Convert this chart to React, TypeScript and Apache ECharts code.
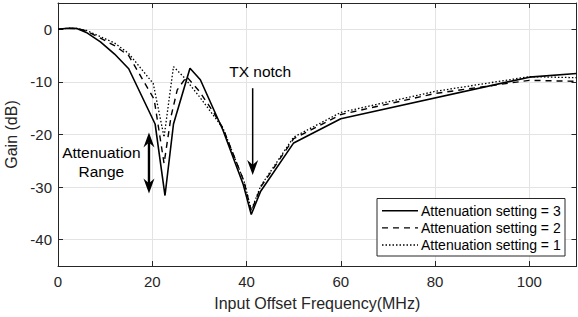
import React, { useEffect, useRef } from "react";
import * as echarts from "echarts";

const FONT = "'Liberation Sans', Arial, Helvetica, sans-serif";

const xTicks = [0, 20, 40, 60, 80, 100];
const yTicks = [0, -10, -20, -30, -40];

const seriesNames = [
  "Attenuation setting = 3",
  "Attenuation setting = 2",
  "Attenuation setting = 1",
];

const freq3 = [0, 2, 4, 6, 9, 12, 15, 20.6, 22.7, 24.5, 28, 30.2, 35, 39.3, 41, 43, 50, 60, 100, 110];
const gain3 = [0, 0.2, 0.15, -0.6, -2.4, -4.7, -7.5, -18, -31.6, -18, -7.4, -9.6, -19.2, -29.5, -35.2, -30.8, -21.6, -17, -9.1, -8.4];

const freq2 = [0, 2, 4, 6, 9, 12, 15, 20.4, 22.5, 24, 25.3, 27.3, 30, 33, 35, 39.5, 41, 43, 50, 60, 80, 100, 110];
const gain2 = [0, 0.2, 0.15, -0.3, -1.7, -3.1, -5, -13.3, -25.5, -16.5, -11.5, -9, -11.8, -15.8, -18.8, -29, -34.6, -30, -20.8, -16.2, -12.2, -9.7, -9.9];

const freq1 = [0, 2, 4, 6, 9, 12, 15, 20.2, 22.5, 24.5, 26.8, 30, 35, 39.5, 41, 43, 50, 60, 80, 100, 110];
const gain1 = [0, 0.2, 0.15, -0.2, -1.4, -2.6, -4.6, -10.3, -20.5, -7.1, -9.2, -12.8, -18.8, -29, -34.4, -29.8, -20.5, -15.8, -11.8, -9.0, -9.2];

const lineTypes: any[] = ["solid", [6, 5], [1.5, 2]];
const lineWidths = [1.6, 1.4, 1.3];

const AXIS_COLOR = "#262626";
const GRID_COLOR = "#e3e3e3";

export default function App() {
  const ref = useRef<HTMLDivElement>(null);
  useEffect(() => {
    if (!ref.current) return;
    const chart = echarts.init(ref.current, undefined, { renderer: "svg" });
    const datasets = [
      freq3.map((f, i) => [f, gain3[i]]),
      freq2.map((f, i) => [f, gain2[i]]),
      freq1.map((f, i) => [f, gain1[i]]),
    ];
    const xBase = {
      type: "value" as const,
      min: 0,
      max: 110,
      interval: 20,
    };
    const yBase = {
      type: "value" as const,
      min: -45,
      max: 5,
      splitNumber: 5,
    };
    chart.setOption({
      animation: false,
      backgroundColor: "#ffffff",
      textStyle: { fontFamily: FONT },
      grid: {
        left: 58,
        right: 1.5,
        top: 3,
        bottom: 51,
        containLabel: false,
        outerBoundsMode: "none",
      },
      xAxis: [
        {
          ...xBase,
          position: "bottom",
          name: "Input Offset Frequency(MHz)",
          nameLocation: "middle",
          nameGap: 29,
          nameTextStyle: { fontSize: 16, color: AXIS_COLOR, fontFamily: FONT },
          axisLine: { show: true, onZero: false, lineStyle: { color: AXIS_COLOR, width: 1 } },
          axisTick: { show: true, inside: true, length: 5, lineStyle: { color: AXIS_COLOR } },
          axisLabel: {
            fontSize: 15,
            color: AXIS_COLOR,
            margin: 8,
            fontFamily: FONT,
            showMaxLabel: false,
            formatter: (v: number) => (xTicks.includes(v) ? String(v) : ""),
          },
          splitLine: { show: true, lineStyle: { color: GRID_COLOR, width: 1 } },
        },
        {
          ...xBase,
          position: "top",
          axisLine: { show: true, onZero: false, lineStyle: { color: AXIS_COLOR, width: 1 } },
          axisTick: { show: true, inside: true, length: 5, lineStyle: { color: AXIS_COLOR } },
          axisLabel: { show: false },
          splitLine: { show: false },
        },
      ],
      yAxis: [
        {
          ...yBase,
          position: "left",
          name: "Gain (dB)",
          nameLocation: "middle",
          nameGap: 33,
          nameTextStyle: { fontSize: 16, color: AXIS_COLOR, fontFamily: FONT },
          axisLine: { show: true, onZero: false, lineStyle: { color: AXIS_COLOR, width: 1 } },
          axisTick: { show: true, inside: true, length: 5, lineStyle: { color: AXIS_COLOR } },
          axisLabel: {
            fontSize: 15,
            color: AXIS_COLOR,
            margin: 6,
            fontFamily: FONT,
            showMinLabel: false,
            showMaxLabel: false,
            formatter: (v: number) => (yTicks.includes(v) ? String(v) : ""),
          },
          splitLine: { show: true, lineStyle: { color: GRID_COLOR, width: 1 } },
        },
        {
          ...yBase,
          position: "right",
          axisLine: { show: true, onZero: false, lineStyle: { color: AXIS_COLOR, width: 1 } },
          axisTick: { show: true, inside: true, length: 5, lineStyle: { color: AXIS_COLOR } },
          axisLabel: { show: false },
          splitLine: { show: false },
        },
      ],
      series: datasets.map((d, i) => ({
        name: seriesNames[i],
        type: "line",
        xAxisIndex: 0,
        yAxisIndex: 0,
        data: d,
        symbol: "none",
        showSymbol: false,
        color: "#000",
        lineStyle: { color: "#000", width: lineWidths[i], type: lineTypes[i] },
        z: 3 - i,
      })),
    });

    const px = (x: number, y: number) =>
      chart.convertToPixel({ gridIndex: 0 }, [x, y]) as number[];

    const head = (tip: number[], dir: number, len: number, w: number) => {
      const [x, y] = tip;
      return {
        type: "polygon",
        shape: {
          points: [
            [x, y],
            [x - w / 2, y - dir * len],
            [x, y - dir * len * 0.68],
            [x + w / 2, y - dir * len],
          ],
        },
        style: { fill: "#000" },
        z: 10,
      };
    };

    const txTop = px(41.3, -11.2);
    const txTip = px(41.3, -27.7);
    const atTop = px(19.3, -19.6);
    const atBot = px(19.3, -31.2);
    const txText = px(42.9, -8.1);
    const atText = px(9.2, -25.2);

    // manual legend (MATLAB-style box)
    const lgLeft = 377;
    const lgTop = 198.5;
    const lgW = 188;
    const lgH = 57.5;
    const rowY = [210.7, 227.9, 245];
    const legendEls: any[] = [
      {
        type: "rect",
        shape: { x: lgLeft, y: lgTop, width: lgW, height: lgH },
        style: { fill: "#ffffff", stroke: AXIS_COLOR, lineWidth: 1 },
        z: 20,
      },
    ];
    seriesNames.forEach((name, i) => {
      legendEls.push({
        type: "line",
        shape: { x1: lgLeft + 5, y1: rowY[i], x2: lgLeft + 41, y2: rowY[i] },
        style: {
          stroke: "#000",
          lineWidth: lineWidths[i],
          lineDash: i === 0 ? null : lineTypes[i],
        },
        z: 21,
      });
      legendEls.push({
        type: "text",
        x: lgLeft + 44,
        y: rowY[i],
        style: {
          text: name,
          fontSize: 14,
          fontFamily: FONT,
          fill: "#000",
          align: "left",
          verticalAlign: "middle",
        },
        z: 21,
      });
    });

    chart.setOption({
      graphic: [
        {
          type: "line",
          shape: { x1: txTop[0], y1: txTop[1], x2: txTip[0], y2: txTip[1] - 10 },
          style: { stroke: "#000", lineWidth: 1.5 },
          z: 10,
        },
        head(txTip, 1, 15, 11),
        {
          type: "line",
          shape: { x1: atTop[0], y1: atTop[1] + 10, x2: atBot[0], y2: atBot[1] - 10 },
          style: { stroke: "#000", lineWidth: 2.4 },
          z: 10,
        },
        head(atTop, -1, 15, 11),
        head(atBot, 1, 15, 11),
        {
          type: "text",
          x: txText[0],
          y: txText[1],
          style: {
            text: "TX notch",
            fontSize: 15.5,
            fontFamily: FONT,
            fill: "#000",
            align: "center",
            verticalAlign: "middle",
          },
          z: 10,
        },
        {
          type: "text",
          x: atText[0],
          y: atText[1],
          style: {
            text: "Attenuation\nRange",
            fontSize: 15.5,
            lineHeight: 19,
            fontFamily: FONT,
            fill: "#000",
            align: "center",
            verticalAlign: "middle",
          },
          z: 10,
        },
        ...legendEls,
      ],
    });

    return () => chart.dispose();
  }, []);
  return (
    <div
      ref={ref}
      style={{ position: "fixed", left: 0, top: 0, width: 578, height: 317 }}
    />
  );
}
